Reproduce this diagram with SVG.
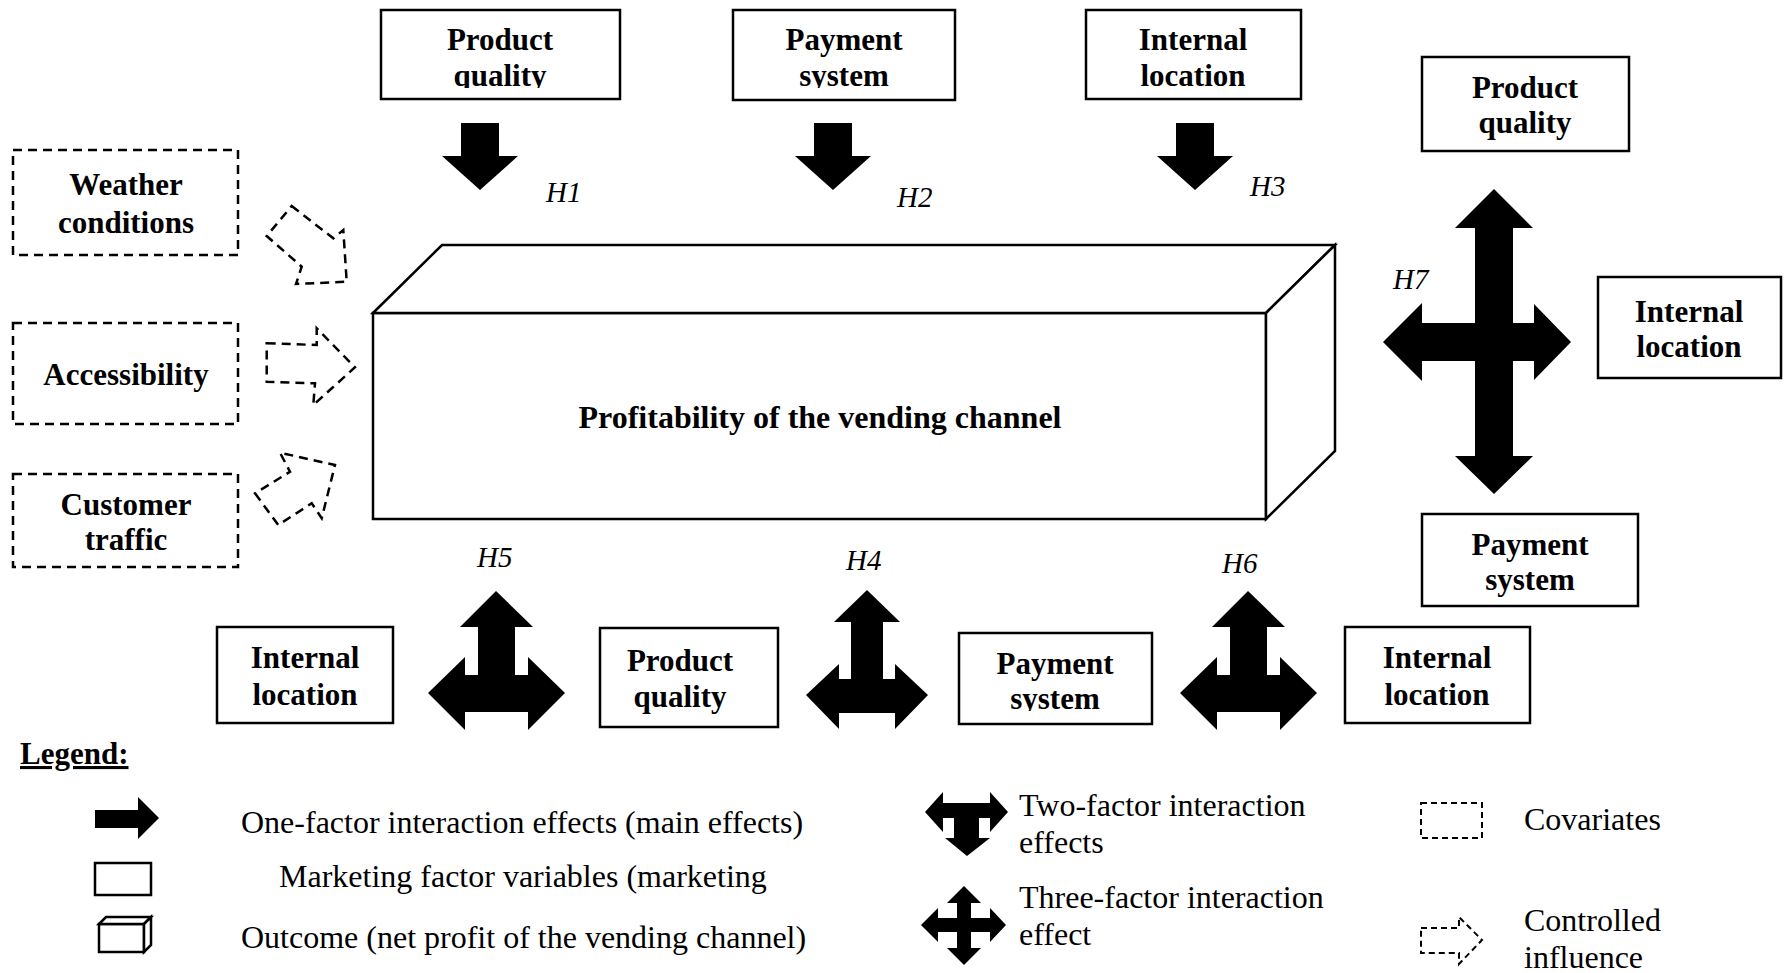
<svg xmlns="http://www.w3.org/2000/svg" width="1785" height="973" viewBox="0 0 1785 973">
<style>
.box{fill:#fff;stroke:#000;stroke-width:2.5}
.dbox{fill:none;stroke:#000;stroke-width:2.5;stroke-dasharray:9 6}
.darr{fill:none;stroke:#000;stroke-width:2.5;stroke-dasharray:9 6}
.sdash{fill:none;stroke:#000;stroke-width:2;stroke-dasharray:6 4}
.blk{fill:#000}
.lbl{font-family:"Liberation Serif","Times New Roman",serif;font-weight:bold;font-size:31px;text-anchor:middle;fill:#000}
.h{font-family:"Liberation Serif","Times New Roman",serif;font-style:italic;font-size:29px;fill:#000}
.leg{font-family:"Liberation Serif","Times New Roman",serif;font-size:32px;fill:#000}
</style>
<defs>
<clipPath id="cpPQ1"><rect x="381" y="10" width="239" height="78"/></clipPath>
<clipPath id="cpPS1"><rect x="733" y="10" width="222" height="78"/></clipPath>
<clipPath id="cpPSb"><rect x="959" y="633" width="193" height="78"/></clipPath>
</defs>
<rect width="1785" height="973" fill="#fff"/>

<g id="outcome">
<rect class="box" x="373" y="313" width="893" height="206"/>
<polygon class="box" points="373,313 442,245 1335,245 1266,313"/>
<polygon class="box" points="1266,313 1335,245 1335,451 1266,519"/>
<text class="lbl" x="820" y="428" style="font-size:32px">Profitability of the vending channel</text>
</g>

<g id="pq-top">
<rect class="box" x="381" y="10" width="239" height="89"/>
<g clip-path="url(#cpPQ1)"><text class="lbl" x="500" y="50">Product</text><text class="lbl" x="500" y="86">quality</text></g>
</g>
<g id="ps-top">
<rect class="box" x="733" y="10" width="222" height="90"/>
<g clip-path="url(#cpPS1)"><text class="lbl" x="844" y="50">Payment</text><text class="lbl" x="844" y="86">system</text></g>
</g>
<g id="il-top">
<rect class="box" x="1086" y="10" width="215" height="89"/>
<text class="lbl" x="1193" y="50">Internal</text><text class="lbl" x="1193" y="86">location</text>
</g>

<g id="pq-right">
<rect class="box" x="1422" y="57" width="207" height="94"/>
<text class="lbl" x="1525" y="98">Product</text><text class="lbl" x="1525" y="133">quality</text>
</g>
<g id="il-right">
<rect class="box" x="1598" y="277" width="183" height="101"/>
<text class="lbl" x="1689" y="322">Internal</text><text class="lbl" x="1689" y="357">location</text>
</g>
<g id="ps-right">
<rect class="box" x="1422" y="514" width="216" height="92"/>
<text class="lbl" x="1530" y="555">Payment</text><text class="lbl" x="1530" y="590">system</text>
</g>

<g id="weather">
<rect class="dbox" x="13" y="150" width="225" height="105"/>
<text class="lbl" x="126" y="195">Weather</text><text class="lbl" x="126" y="233">conditions</text>
</g>
<g id="accessibility">
<rect class="dbox" x="13" y="323" width="225" height="101"/>
<text class="lbl" x="126" y="385">Accessibility</text>
</g>
<g id="traffic">
<rect class="dbox" x="13" y="474" width="225" height="93"/>
<text class="lbl" x="126" y="515">Customer</text><text class="lbl" x="126" y="550">traffic</text>
</g>

<g id="il-bottom-left">
<rect class="box" x="217" y="627" width="176" height="96"/>
<text class="lbl" x="305" y="668">Internal</text><text class="lbl" x="305" y="705">location</text>
</g>
<g id="pq-bottom">
<rect class="box" x="600" y="628" width="178" height="99"/>
<text class="lbl" x="680" y="671">Product</text><text class="lbl" x="680" y="707">quality</text>
</g>
<g id="ps-bottom">
<rect class="box" x="959" y="633" width="193" height="91"/>
<g clip-path="url(#cpPSb)"><text class="lbl" x="1055" y="674">Payment</text><text class="lbl" x="1055" y="709">system</text></g>
</g>
<g id="il-bottom-right">
<rect class="box" x="1345" y="627" width="185" height="96"/>
<text class="lbl" x="1437" y="668">Internal</text><text class="lbl" x="1437" y="705">location</text>
</g>

<g id="connectors">
<polygon class="blk" points="461,123 499,123 499,156 518,156 480,190 442,156 461,156"/>
<polygon class="blk" points="814,123 852,123 852,156 871,156 833,190 795,156 814,156"/>
<polygon class="blk" points="1176,123 1214,123 1214,156 1233,156 1195,190 1157,156 1176,156"/>
<polygon class="darr" points="291.7,206 333.3,238.3 343.3,230 346.7,281.7 296,284 301.7,266.7 266.7,236"/>
<polygon class="darr" points="266.7,343.3 316.7,345 316.7,328.3 355,367.3 313.3,405 315,383.3 266.7,381.7"/>
<polygon class="darr" points="255,493.3 278.3,525 311.7,503.3 321.7,518.3 335,465 280,452.7 290,471.7"/>
<polygon class="blk" points="1494,189 1533,228 1513,228 1513,323 1534,323 1534,304 1571,342 1534,380 1534,361 1513,361 1513,456 1533,456 1494,494 1455,456 1475,456 1475,361 1422,361 1422,381 1383,342 1422,303 1422,323 1475,323 1475,228 1455,228"/>
<polygon class="blk" points="496,591 533,627 515,627 515,675 528,675 528,657 565,693 528,730 528,712 465,712 465,730 428,693 465,657 465,675 478,675 478,627 460,627"/>
<polygon class="blk" points="867,590 900,622 883,622 883,679 895,679 895,664 928,695 895,729 895,713 839,713 839,729 806,695 839,664 839,679 851,679 851,622 834,622"/>
<polygon class="blk" points="1248,591 1285,627 1267,627 1267,675 1280,675 1280,657 1317,693 1280,730 1280,712 1217,712 1217,730 1180,693 1217,657 1217,675 1230,675 1230,627 1212,627"/>
<text class="h" x="546" y="202">H1</text>
<text class="h" x="897" y="207">H2</text>
<text class="h" x="1250" y="196">H3</text>
<text class="h" x="477" y="567">H5</text>
<text class="h" x="846" y="570">H4</text>
<text class="h" x="1222" y="573">H6</text>
<text class="h" x="1393" y="289">H7</text>
</g>

<g id="legend">
<text x="20" y="764" style="font-family:'Liberation Serif','Times New Roman',serif;font-weight:bold;font-size:31px;text-decoration:underline">Legend:</text>
<polygon class="blk" points="95,810 138,810 138,797 159,818 138,839 138,828 95,828"/>
<text class="leg" x="241" y="833">One-factor interaction effects (main effects)</text>
<rect class="box" x="95" y="863" width="56" height="32"/>
<text class="leg" x="279" y="887">Marketing factor variables (marketing</text>
<rect class="box" x="99" y="924" width="45" height="28"/>
<polygon class="box" points="99,924 106,917 151,917 144,924"/>
<polygon class="box" points="144,924 151,917 151,945 144,952"/>
<text class="leg" x="241" y="948">Outcome (net profit of the vending channel)</text>
<polygon class="blk" points="925,812 943,792 943,803 990,803 990,792 1008,812 990,832 990,818 979,818 979,838 990,838 967,856 945,838 954,838 954,818 943,818 943,832"/>
<text class="leg" x="1019" y="816">Two-factor interaction</text>
<text class="leg" x="1019" y="853">effects</text>
<polygon class="blk" points="964,886 981,903 971,903 971,918 990,918 990,908 1006,925 990,942 990,932 971,932 971,948 981,948 964,965 947,948 957,948 957,932 938,932 938,942 921,925 938,908 938,918 957,918 957,903 947,903"/>
<text class="leg" x="1019" y="908">Three-factor interaction</text>
<text class="leg" x="1019" y="945">effect</text>
<rect class="sdash" x="1421" y="803" width="61" height="35"/>
<text class="leg" x="1524" y="830">Covariates</text>
<polygon class="sdash" points="1421,928 1459,928 1459,917 1482,940 1459,964 1459,953 1421,953"/>
<text class="leg" x="1524" y="931">Controlled</text>
<text class="leg" x="1524" y="968">influence</text>
</g>
</svg>
